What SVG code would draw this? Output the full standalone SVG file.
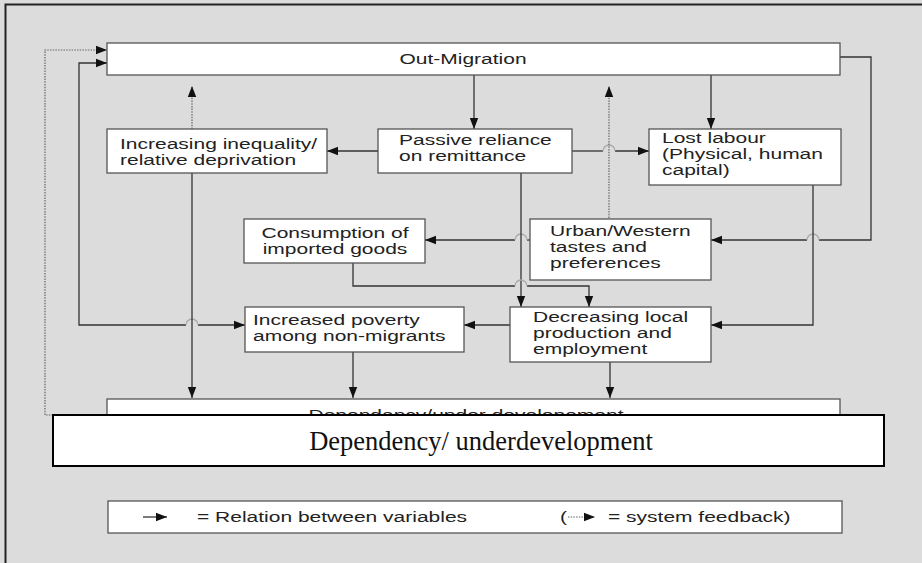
<svg xmlns="http://www.w3.org/2000/svg" width="922" height="563" viewBox="0 0 922 563">
<defs>
<style>
.box{fill:#fff;stroke:#555;stroke-width:1.3}
.t{font-family:"Liberation Sans",Arial,sans-serif;font-size:15px;fill:#222}
.c{fill:none;stroke:#333;stroke-width:1.3}
.d{fill:none;stroke:#666;stroke-width:1.2;stroke-dasharray:1.5 1.2}
.hop{fill:none;stroke:#aaa;stroke-width:1.3}
</style>
<marker id="ah" markerUnits="userSpaceOnUse" markerWidth="12" markerHeight="10" refX="11" refY="5" orient="auto-start-reverse">
<path d="M0,0.8 L11,5 L0,9.2 Z" fill="#111"/>
</marker>
</defs>
<rect x="0" y="0" width="922" height="563" fill="#dcdcdc"/>
<path d="M5.5,563 V4.5 H922" fill="none" stroke="#222" stroke-width="2"/>

<g id="connectors">
<path class="c" d="M474,75 V129" marker-end="url(#ah)"/>
<path class="c" d="M711,75 V129" marker-end="url(#ah)"/>
<path class="c" d="M378,151 H327" marker-end="url(#ah)"/>
<path class="c" d="M572,151 H603"/>
<path class="c" d="M615,151 H649" marker-end="url(#ah)"/>
<path class="hop" d="M603,151 A6,6 0 0 1 615,151"/>
<path class="c" d="M840,57 H871 V240 H819"/>
<path class="c" d="M807,240 H711" marker-end="url(#ah)"/>
<path class="hop" d="M807,240 A6,6 0 0 1 819,240"/>
<path class="c" d="M813,185 V325 H711" marker-end="url(#ah)"/>
<path class="c" d="M530,240 H527"/>
<path class="c" d="M515,240 H425" marker-end="url(#ah)"/>
<path class="hop" d="M527,240 A6,6 0 0 0 515,240"/>
<path class="c" d="M521,173 V307" marker-end="url(#ah)"/>
<path class="c" d="M353,263 V286 H515"/>
<path class="c" d="M527,286 H589 V307" marker-end="url(#ah)"/>
<path class="hop" d="M527,286 A6,6 0 0 0 515,286"/>
<path class="c" d="M510,325 H464" marker-end="url(#ah)"/>
<path class="c" d="M107,63 H79 V325 H186" marker-start="url(#ah)"/>
<path class="c" d="M198,325 H245" marker-end="url(#ah)"/>
<path class="hop" d="M186,325 A6,6 0 0 1 198,325"/>
<path class="c" d="M192,173 V398" marker-end="url(#ah)"/>
<path class="c" d="M353,352 V398" marker-end="url(#ah)"/>
<path class="c" d="M610,362 V398" marker-end="url(#ah)"/>
<path class="d" d="M192,129 V86" marker-end="url(#ah)"/>
<path class="d" d="M609,218 V86" marker-end="url(#ah)"/>
<path class="d" d="M107,415 H45 V50 H107" marker-end="url(#ah)"/>
</g>

<g id="out-migration">
<rect class="box" x="107" y="43" width="733" height="32"/>
<text class="t" transform="matrix(1.4 0 0 1 463 0)" x="0" y="64" text-anchor="middle">Out-Migration</text>
</g>
<g id="inequality">
<rect class="box" x="107" y="129" width="220" height="44"/>
<text class="t" transform="matrix(1.4 0 0 1 120 0)" x="0" y="149">Increasing inequality/</text>
<text class="t" transform="matrix(1.4 0 0 1 120 0)" x="0" y="165">relative deprivation</text>
</g>
<g id="passive">
<rect class="box" x="378" y="129" width="194" height="44"/>
<text class="t" transform="matrix(1.4 0 0 1 399 0)" x="0" y="145">Passive reliance</text>
<text class="t" transform="matrix(1.4 0 0 1 399 0)" x="0" y="161">on remittance</text>
</g>
<g id="lost-labour">
<rect class="box" x="649" y="129" width="192" height="56"/>
<text class="t" transform="matrix(1.4 0 0 1 662 0)" x="0" y="143">Lost labour</text>
<text class="t" transform="matrix(1.4 0 0 1 662 0)" x="0" y="159">(Physical, human</text>
<text class="t" transform="matrix(1.4 0 0 1 662 0)" x="0" y="175">capital)</text>
</g>
<g id="consumption">
<rect class="box" x="244" y="219" width="181" height="44"/>
<text class="t" transform="matrix(1.4 0 0 1 335 0)" x="0" y="238" text-anchor="middle">Consumption of</text>
<text class="t" transform="matrix(1.4 0 0 1 335 0)" x="0" y="254" text-anchor="middle">imported goods</text>
</g>
<g id="urban">
<rect class="box" x="530" y="219" width="181" height="61"/>
<text class="t" transform="matrix(1.4 0 0 1 550 0)" x="0" y="236">Urban/Western</text>
<text class="t" transform="matrix(1.4 0 0 1 550 0)" x="0" y="252">tastes and</text>
<text class="t" transform="matrix(1.4 0 0 1 550 0)" x="0" y="268">preferences</text>
</g>
<g id="poverty">
<rect class="box" x="245" y="307" width="219" height="45"/>
<text class="t" transform="matrix(1.4 0 0 1 253 0)" x="0" y="325">Increased poverty</text>
<text class="t" transform="matrix(1.4 0 0 1 253 0)" x="0" y="341">among non-migrants</text>
</g>
<g id="decreasing">
<rect class="box" x="510" y="307" width="201" height="55"/>
<text class="t" transform="matrix(1.4 0 0 1 533 0)" x="0" y="322">Decreasing local</text>
<text class="t" transform="matrix(1.4 0 0 1 533 0)" x="0" y="338">production and</text>
<text class="t" transform="matrix(1.4 0 0 1 533 0)" x="0" y="354">employment</text>
</g>
<g id="dependancy-old">
<rect class="box" x="107" y="399" width="733" height="40"/>
<text class="t" transform="matrix(1.4 0 0 1 466 0)" x="0" y="420" text-anchor="middle">Dependancy/under developement</text>
</g>
<g id="dependency">
<rect x="53" y="415" width="831" height="51" fill="#fff" stroke="#000" stroke-width="2"/>
<text x="481" y="450" text-anchor="middle" font-family="'Liberation Serif','Times New Roman',serif" font-size="26.5" fill="#111">Dependency/ underdevelopment</text>
</g>
<g id="legend">
<rect class="box" x="108" y="501" width="734" height="32"/>
<path class="c" d="M143,517 H167" marker-end="url(#ah)"/>
<text class="t" transform="matrix(1.4 0 0 1 197 0)" x="0" y="522">= Relation between variables</text>
<text class="t" transform="matrix(1.4 0 0 1 560 0)" x="0" y="522">(</text>
<path class="d" d="M568,517 H595" marker-end="url(#ah)"/>
<text class="t" transform="matrix(1.4 0 0 1 608 0)" x="0" y="522">= system feedback)</text>
</g>
</svg>
